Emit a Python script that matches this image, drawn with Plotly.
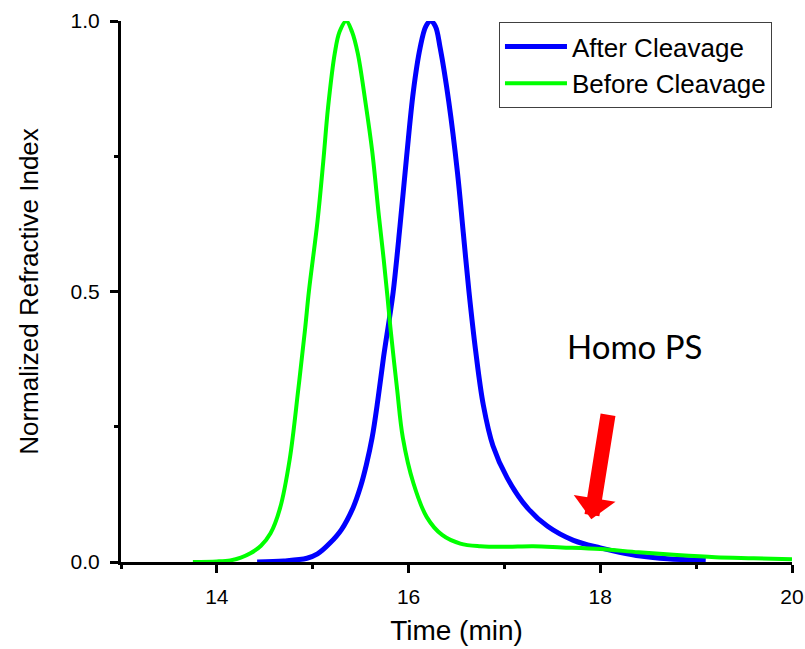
import plotly.graph_objects as go

# Before Cleavage (green)
before_t = [13.75, 14.0, 14.14, 14.25, 14.35, 14.46, 14.56, 14.66, 14.76, 14.85, 14.92, 14.96,
            15.05, 15.11, 15.16, 15.23, 15.28, 15.35, 15.41, 15.47, 15.55, 15.62, 15.69, 15.74,
            15.78, 15.81, 15.88, 15.94, 16.05, 16.19, 16.35, 16.54, 16.75, 17.0, 17.3, 17.6,
            18.0, 18.4, 18.8, 19.2, 19.6, 20.0]
before_ri = [0.0, 0.001, 0.003, 0.008, 0.016, 0.030, 0.053, 0.10, 0.19, 0.32, 0.43, 0.50,
             0.63, 0.74, 0.84, 0.94, 0.98, 1.0, 0.98, 0.94, 0.85, 0.76, 0.64, 0.56,
             0.49, 0.434, 0.32, 0.23, 0.146, 0.083, 0.05, 0.034, 0.029, 0.028, 0.029, 0.027,
             0.024, 0.018, 0.013, 0.009, 0.007, 0.005]

# After Cleavage (blue)
after_t = [14.42, 14.7, 14.94, 15.05, 15.18, 15.3, 15.42, 15.5, 15.56, 15.62, 15.68, 15.74,
           15.80, 15.84, 15.91, 15.98, 16.05, 16.12, 16.18, 16.23, 16.28, 16.33, 16.42, 16.51,
           16.57, 16.63, 16.70, 16.78, 16.88, 17.03, 17.24, 17.45, 17.72, 18.0, 18.2, 18.42,
           18.7, 19.1]
after_ri = [0.0, 0.002, 0.007, 0.015, 0.035, 0.06, 0.10, 0.14, 0.18, 0.23, 0.30, 0.38,
            0.45, 0.50, 0.62, 0.75, 0.87, 0.95, 0.99, 1.0, 0.99, 0.95, 0.85, 0.72,
            0.61, 0.50, 0.39, 0.29, 0.215, 0.155, 0.10, 0.066, 0.040, 0.026, 0.018, 0.011,
            0.006, 0.003]

x_tickvals = [14, 16, 18, 20]
y_tickvals = [0.0, 0.5, 1.0]

FONT = "Liberation Sans"

fig = go.Figure()
fig.add_trace(go.Scatter(x=after_t, y=after_ri, mode="lines", name="After Cleavage",
                         line=dict(color="#0000FF", width=5, shape="spline", smoothing=1.0)))
fig.add_trace(go.Scatter(x=before_t, y=before_ri, mode="lines", name="Before Cleavage",
                         line=dict(color="#00FF00", width=4, shape="spline", smoothing=1.0)))

fig.update_layout(
    width=805, height=649,
    margin=dict(l=121, r=13, t=21, b=87),
    paper_bgcolor="white", plot_bgcolor="white",
    font=dict(family=FONT, color="black"),
    showlegend=True,
    legend=dict(x=0.5633, y=0.998, xanchor="left", yanchor="top",
                bordercolor="#404040", borderwidth=1, bgcolor="white",
                itemwidth=62,
                font=dict(size=26, family=FONT), tracegroupgap=0),
    annotations=[
        dict(x=18.355, y=0.40, xref="x", yref="y", text="Homo PS", showarrow=False,
             font=dict(family="Lato, Open Sans, sans-serif", size=33, color="black")),
        dict(x=17.906, y=0.079, xref="x", yref="y", text="", showarrow=True,
             ax=17, ay=-106, arrowhead=1, arrowwidth=15, arrowsize=0.47,
             arrowcolor="#FF0000"),
    ],
)

fig.update_xaxes(
    range=[13, 20], tickvals=x_tickvals, ticktext=[str(v) for v in x_tickvals],
    showline=True, linecolor="black", linewidth=3, mirror=False, automargin=False,
    ticks="outside", ticklen=8, tickwidth=3, tickcolor="black",
    minor=dict(dtick=1, tick0=13, ticks="outside", ticklen=4, tickwidth=3, tickcolor="black", showgrid=False),
    showgrid=False, zeroline=False,
    tickfont=dict(size=21, family=FONT), ticklabelstandoff=6,
    title=dict(text="Time (min)", font=dict(size=28, family=FONT), standoff=14),
)
fig.update_yaxes(
    range=[0, 1], tickvals=y_tickvals, ticktext=["0.0", "0.5", "1.0"],
    showline=True, linecolor="black", linewidth=3, mirror=False, automargin=False,
    ticks="outside", ticklen=8, tickwidth=3, tickcolor="black",
    minor=dict(dtick=0.25, tick0=0, ticks="outside", ticklen=4, tickwidth=3, tickcolor="black", showgrid=False),
    showgrid=False, zeroline=False,
    tickfont=dict(size=21, family=FONT), ticklabelstandoff=6,
    title=dict(text="Normalized Refractive Index", font=dict(size=26, family=FONT), standoff=25),
)

fig.write_html("out.html")
